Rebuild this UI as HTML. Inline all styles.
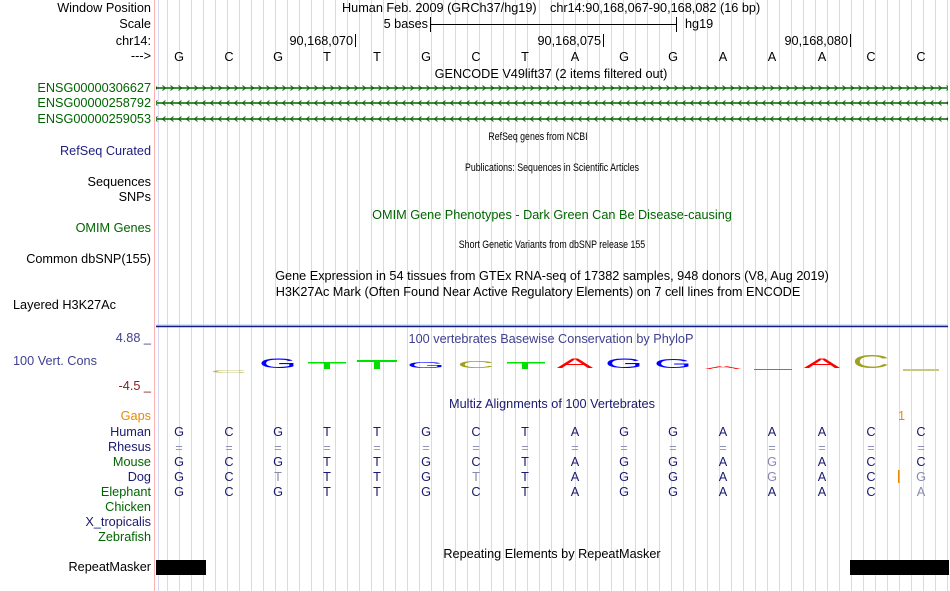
<!DOCTYPE html>
<html><head><meta charset="utf-8"><style>
html,body{margin:0;padding:0;background:#fff;}
svg{display:block;font-family:"Liberation Sans",Arial,sans-serif;}
</style></head><body>
<svg width="950" height="591" viewBox="0 0 950 591" xmlns="http://www.w3.org/2000/svg">
<defs>
<pattern id="fw" x="0" y="84" width="8" height="8" patternUnits="userSpaceOnUse">
<path d="M2.5,1.5 L5.5,4 L2.5,6.5" fill="none" stroke="#006400" stroke-width="1"/>
</pattern>
<pattern id="rv1" x="0" y="99" width="8" height="8" patternUnits="userSpaceOnUse">
<path d="M5.5,1.5 L2.5,4 L5.5,6.5" fill="none" stroke="#006400" stroke-width="1"/>
</pattern>
<pattern id="rv2" x="0" y="115" width="8" height="8" patternUnits="userSpaceOnUse">
<path d="M5.5,1.5 L2.5,4 L5.5,6.5" fill="none" stroke="#006400" stroke-width="1"/>
</pattern>
</defs>
<rect width="950" height="591" fill="#fff"/>
<g stroke="#d8d8f0" stroke-width="1">
<line x1="158.5" y1="0" x2="158.5" y2="591"/>
<line x1="167.5" y1="0" x2="167.5" y2="591"/><line x1="179.5" y1="0" x2="179.5" y2="591"/><line x1="191.5" y1="0" x2="191.5" y2="591"/><line x1="203.5" y1="0" x2="203.5" y2="591"/><line x1="215.5" y1="0" x2="215.5" y2="591"/><line x1="227.5" y1="0" x2="227.5" y2="591"/><line x1="239.5" y1="0" x2="239.5" y2="591"/><line x1="251.5" y1="0" x2="251.5" y2="591"/><line x1="263.5" y1="0" x2="263.5" y2="591"/><line x1="275.5" y1="0" x2="275.5" y2="591"/><line x1="287.5" y1="0" x2="287.5" y2="591"/><line x1="299.5" y1="0" x2="299.5" y2="591"/><line x1="311.5" y1="0" x2="311.5" y2="591"/><line x1="323.5" y1="0" x2="323.5" y2="591"/><line x1="335.5" y1="0" x2="335.5" y2="591"/><line x1="347.5" y1="0" x2="347.5" y2="591"/><line x1="359.5" y1="0" x2="359.5" y2="591"/><line x1="371.5" y1="0" x2="371.5" y2="591"/><line x1="383.5" y1="0" x2="383.5" y2="591"/><line x1="395.5" y1="0" x2="395.5" y2="591"/><line x1="407.5" y1="0" x2="407.5" y2="591"/><line x1="419.5" y1="0" x2="419.5" y2="591"/><line x1="431.5" y1="0" x2="431.5" y2="591"/><line x1="443.5" y1="0" x2="443.5" y2="591"/><line x1="455.5" y1="0" x2="455.5" y2="591"/><line x1="467.5" y1="0" x2="467.5" y2="591"/><line x1="479.5" y1="0" x2="479.5" y2="591"/><line x1="491.5" y1="0" x2="491.5" y2="591"/><line x1="503.5" y1="0" x2="503.5" y2="591"/><line x1="515.5" y1="0" x2="515.5" y2="591"/><line x1="527.5" y1="0" x2="527.5" y2="591"/><line x1="539.5" y1="0" x2="539.5" y2="591"/><line x1="551.5" y1="0" x2="551.5" y2="591"/><line x1="563.5" y1="0" x2="563.5" y2="591"/><line x1="575.5" y1="0" x2="575.5" y2="591"/><line x1="587.5" y1="0" x2="587.5" y2="591"/><line x1="599.5" y1="0" x2="599.5" y2="591"/><line x1="611.5" y1="0" x2="611.5" y2="591"/><line x1="623.5" y1="0" x2="623.5" y2="591"/><line x1="635.5" y1="0" x2="635.5" y2="591"/><line x1="647.5" y1="0" x2="647.5" y2="591"/><line x1="659.5" y1="0" x2="659.5" y2="591"/><line x1="671.5" y1="0" x2="671.5" y2="591"/><line x1="683.5" y1="0" x2="683.5" y2="591"/><line x1="695.5" y1="0" x2="695.5" y2="591"/><line x1="707.5" y1="0" x2="707.5" y2="591"/><line x1="719.5" y1="0" x2="719.5" y2="591"/><line x1="731.5" y1="0" x2="731.5" y2="591"/><line x1="743.5" y1="0" x2="743.5" y2="591"/><line x1="755.5" y1="0" x2="755.5" y2="591"/><line x1="767.5" y1="0" x2="767.5" y2="591"/><line x1="779.5" y1="0" x2="779.5" y2="591"/><line x1="791.5" y1="0" x2="791.5" y2="591"/><line x1="803.5" y1="0" x2="803.5" y2="591"/><line x1="815.5" y1="0" x2="815.5" y2="591"/><line x1="827.5" y1="0" x2="827.5" y2="591"/><line x1="839.5" y1="0" x2="839.5" y2="591"/><line x1="851.5" y1="0" x2="851.5" y2="591"/><line x1="863.5" y1="0" x2="863.5" y2="591"/><line x1="875.5" y1="0" x2="875.5" y2="591"/><line x1="887.5" y1="0" x2="887.5" y2="591"/><line x1="899.5" y1="0" x2="899.5" y2="591"/><line x1="911.5" y1="0" x2="911.5" y2="591"/><line x1="923.5" y1="0" x2="923.5" y2="591"/><line x1="935.5" y1="0" x2="935.5" y2="591"/><line x1="947.5" y1="0" x2="947.5" y2="591"/>
</g>
<line x1="154.5" y1="0" x2="154.5" y2="591" stroke="#ffb0b0" stroke-width="1"/>

<g font-size="12.7" text-anchor="end">
<text x="151" y="12">Window Position</text>
<text x="151" y="28">Scale</text>
<text x="151" y="45">chr14:</text>
<text x="151" y="60">---&gt;</text>
<text x="151" y="92" fill="#006400">ENSG00000306627</text>
<text x="151" y="107" fill="#006400">ENSG00000258792</text>
<text x="151" y="123" fill="#006400">ENSG00000259053</text>
<text x="151" y="155" fill="#202080">RefSeq Curated</text>
<text x="151" y="186">Sequences</text>
<text x="151" y="201">SNPs</text>
<text x="151" y="232" fill="#006400">OMIM Genes</text>
<text x="151" y="263">Common dbSNP(155)</text>
<text x="151" y="342" fill="#404090">4.88 _</text>
<text x="151" y="390" fill="#8b2020">-4.5 _</text>
<text x="151" y="420" fill="#e68a00">Gaps</text>
<text x="151" y="436" fill="#1a1a70">Human</text>
<text x="151" y="451" fill="#1a1a70">Rhesus</text>
<text x="151" y="466" fill="#006400">Mouse</text>
<text x="151" y="481" fill="#1a1a70">Dog</text>
<text x="151" y="496" fill="#006400">Elephant</text>
<text x="151" y="511" fill="#006400">Chicken</text>
<text x="151" y="526" fill="#1a1a70">X_tropicalis</text>
<text x="151" y="541" fill="#006400">Zebrafish</text>
<text x="151" y="571">RepeatMasker</text>
</g>
<g font-size="12.7">
<text x="13" y="309">Layered H3K27Ac</text>
<text x="13" y="365" fill="#404090">100 Vert. Cons</text>
</g>

<g font-size="12.7">
<text x="342" y="12">Human Feb. 2009 (GRCh37/hg19)</text>
<text x="550" y="12">chr14:90,168,067-90,168,082 (16 bp)</text>
<text x="428" y="28" text-anchor="end">5 bases</text>
<text x="685" y="28">hg19</text>
<text x="353" y="45" text-anchor="end">90,168,070</text>
<text x="601" y="45" text-anchor="end">90,168,075</text>
<text x="848" y="45" text-anchor="end">90,168,080</text>
</g>
<g stroke="#000" stroke-width="1">
<line x1="430" y1="24.5" x2="677" y2="24.5"/>
<line x1="430.5" y1="17" x2="430.5" y2="32"/>
<line x1="676.5" y1="17" x2="676.5" y2="32"/>
<line x1="355.5" y1="34" x2="355.5" y2="47"/>
<line x1="603.5" y1="34" x2="603.5" y2="47"/>
<line x1="850.5" y1="34" x2="850.5" y2="47"/>
</g>
<g font-size="12.7" text-anchor="middle">
<text x="179" y="61">G</text><text x="229" y="61">C</text><text x="278" y="61">G</text><text x="327" y="61">T</text><text x="377" y="61">T</text><text x="426" y="61">G</text><text x="476" y="61">C</text><text x="525" y="61">T</text><text x="575" y="61">A</text><text x="624" y="61">G</text><text x="673" y="61">G</text><text x="723" y="61">A</text><text x="772" y="61">A</text><text x="822" y="61">A</text><text x="871" y="61">C</text><text x="921" y="61">C</text>
<text x="551" y="78">GENCODE V49lift37 (2 items filtered out)</text>
</g>

<rect x="156" y="84" width="792" height="8" fill="url(#fw)"/>
<line x1="156" y1="88" x2="948" y2="88" stroke="#006400" stroke-width="1.5"/>
<rect x="156" y="99" width="792" height="8" fill="url(#rv1)"/>
<line x1="156" y1="103" x2="948" y2="103" stroke="#006400" stroke-width="1.5"/>
<rect x="156" y="115" width="792" height="8" fill="url(#rv2)"/>
<line x1="156" y1="119" x2="948" y2="119" stroke="#006400" stroke-width="1.5"/>

<g font-size="11" text-anchor="middle">
<text transform="translate(538,140) scale(0.8,1)">RefSeq genes from NCBI</text>
<text transform="translate(552,171) scale(0.8,1)">Publications: Sequences in Scientific Articles</text>
<text transform="translate(552,248) scale(0.8,1)">Short Genetic Variants from dbSNP release 155</text>
</g>
<g font-size="12.7" text-anchor="middle">
<text x="552" y="219" fill="#006400">OMIM Gene Phenotypes - Dark Green Can Be Disease-causing</text>
<text x="552" y="280">Gene Expression in 54 tissues from GTEx RNA-seq of 17382 samples, 948 donors (V8, Aug 2019)</text>
<text x="538" y="296">H3K27Ac Mark (Often Found Near Active Regulatory Elements) on 7 cell lines from ENCODE</text>
<text x="551" y="343" fill="#404090">100 vertebrates Basewise Conservation by PhyloP</text>
<text x="552" y="408" fill="#1a1a70">Multiz Alignments of 100 Vertebrates</text>
<text x="552" y="558">Repeating Elements by RepeatMasker</text>
</g>

<line x1="156" y1="325" x2="948" y2="325" stroke="#a0d0f0" stroke-width="1"/>
<line x1="156" y1="326.5" x2="948" y2="326.5" stroke="#1a1a80" stroke-width="1.5"/>
<g font-size="14" text-anchor="middle">
<text transform="translate(229,373) scale(3.7,0.3)" fill="#a0a020" opacity="0.7">C</text>
<text transform="translate(278,368) scale(3.5,1.0)" fill="#0000ff">G</text>
<text transform="translate(426,368) scale(3.5,0.6)" fill="#0000ff">G</text>
<text transform="translate(476,368) scale(3.7,0.7)" fill="#a0a020">C</text>
<text transform="translate(575,368) scale(3.9,1.0)" fill="#ff0000">A</text>
<text transform="translate(624,368) scale(3.5,1.0)" fill="#0000ff">G</text>
<text transform="translate(673,368) scale(3.5,0.9)" fill="#0000ff">G</text>
<text transform="translate(723,369) scale(3.9,0.3)" fill="#ff0000">A</text>
<text transform="translate(822,368) scale(3.9,1.0)" fill="#ff0000">A</text>
<text transform="translate(871,368) scale(3.7,1.3)" fill="#a0a020">C</text>
</g>
<g fill="#00e000">
<rect x="308" y="362" width="38" height="1.5"/><rect x="324" y="363" width="6" height="6"/>
<rect x="357" y="360" width="40" height="2"/><rect x="374" y="361" width="6" height="8"/>
<rect x="507" y="362" width="38" height="1.5"/><rect x="522" y="363" width="6" height="6"/>
</g>
<rect x="754" y="369" width="38" height="1" fill="#ff4040"/>
<rect x="903" y="369" width="36" height="2" fill="#c8c880"/>

<text x="898" y="420" font-size="12.7" fill="#e68a00">1</text>
<rect x="898" y="470" width="1.5" height="13" fill="#e68a00"/>
<g font-size="12.7" text-anchor="middle" fill="#1a1a70">
<text x="179" y="436">G</text><text x="229" y="436">C</text><text x="278" y="436">G</text><text x="327" y="436">T</text><text x="377" y="436">T</text><text x="426" y="436">G</text><text x="476" y="436">C</text><text x="525" y="436">T</text><text x="575" y="436">A</text><text x="624" y="436">G</text><text x="673" y="436">G</text><text x="723" y="436">A</text><text x="772" y="436">A</text><text x="822" y="436">A</text><text x="871" y="436">C</text><text x="921" y="436">C</text>
<g fill="#9090b8"><text x="179" y="452">=</text><text x="229" y="452">=</text><text x="278" y="452">=</text><text x="327" y="452">=</text><text x="377" y="452">=</text><text x="426" y="452">=</text><text x="476" y="452">=</text><text x="525" y="452">=</text><text x="575" y="452">=</text><text x="624" y="452">=</text><text x="673" y="452">=</text><text x="723" y="452">=</text><text x="772" y="452">=</text><text x="822" y="452">=</text><text x="871" y="452">=</text><text x="921" y="452">=</text></g>
<text x="179" y="466">G</text><text x="229" y="466">C</text><text x="278" y="466">G</text><text x="327" y="466">T</text><text x="377" y="466">T</text><text x="426" y="466">G</text><text x="476" y="466">C</text><text x="525" y="466">T</text><text x="575" y="466">A</text><text x="624" y="466">G</text><text x="673" y="466">G</text><text x="723" y="466">A</text><text x="772" y="466" fill="#8888b0">G</text><text x="822" y="466">A</text><text x="871" y="466">C</text><text x="921" y="466">C</text>
<text x="179" y="481">G</text><text x="229" y="481">C</text><text x="278" y="481" fill="#8888b0">T</text><text x="327" y="481">T</text><text x="377" y="481">T</text><text x="426" y="481">G</text><text x="476" y="481" fill="#8888b0">T</text><text x="525" y="481">T</text><text x="575" y="481">A</text><text x="624" y="481">G</text><text x="673" y="481">G</text><text x="723" y="481">A</text><text x="772" y="481" fill="#8888b0">G</text><text x="822" y="481">A</text><text x="871" y="481">C</text><text x="921" y="481" fill="#8888b0">G</text>
<text x="179" y="496">G</text><text x="229" y="496">C</text><text x="278" y="496">G</text><text x="327" y="496">T</text><text x="377" y="496">T</text><text x="426" y="496">G</text><text x="476" y="496">C</text><text x="525" y="496">T</text><text x="575" y="496">A</text><text x="624" y="496">G</text><text x="673" y="496">G</text><text x="723" y="496">A</text><text x="772" y="496">A</text><text x="822" y="496">A</text><text x="871" y="496">C</text><text x="921" y="496" fill="#8888b0">A</text>
</g>

<rect x="156" y="560" width="50" height="15" fill="#000"/>
<rect x="850" y="560" width="99" height="15" fill="#000"/>
</svg>
</body></html>
